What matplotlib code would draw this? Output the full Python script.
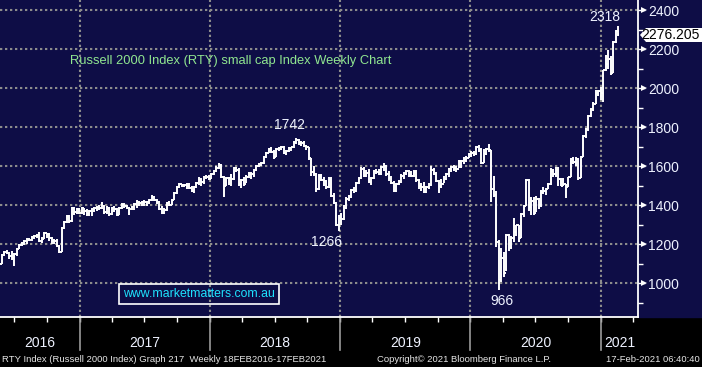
import matplotlib
matplotlib.use("Agg")
import matplotlib.pyplot as plt
import matplotlib.dates as mdates
import matplotlib.transforms as mtransforms
from matplotlib.patches import Polygon, Rectangle
import pandas as pd

# weekly bars, first week ending 20 May 2016, last (partial) week 17 Feb 2021
highs = [
    1125, 1150, 1165, 1170, 1160, 1165, 1155, 1180, 1200, 1210, 1220, 1230, 1232, 1240, 1245, 1250, 1260,
    1235, 1260, 1258, 1255, 1235, 1225, 1225, 1195, 1285, 1320, 1350, 1350, 1390, 1390, 1385, 1385,
    # 2017
    1390, 1385, 1380, 1375, 1385, 1390, 1395, 1400, 1415, 1400, 1395, 1390, 1390, 1395, 1385, 1390, 1410,
    1410, 1400, 1390, 1395, 1410, 1425, 1420, 1420, 1425, 1420, 1430, 1450, 1445, 1430, 1420, 1395, 1385,
    1415, 1420, 1430, 1465, 1495, 1515, 1510, 1510, 1515, 1515, 1495, 1495, 1520, 1545, 1540, 1550, 1555, 1555,
    # 2018
    1565, 1580, 1600, 1615, 1610, 1550, 1545, 1545, 1560, 1595, 1595, 1590, 1535, 1545, 1555, 1570, 1570,
    1585, 1605, 1615, 1620, 1650, 1670, 1690, 1700, 1680, 1690, 1700, 1705, 1705, 1680, 1700, 1700, 1730,
    1742, 1740, 1730, 1730, 1710, 1700, 1640, 1600, 1565, 1560, 1560, 1545, 1530, 1545, 1545, 1460, 1415, 1350,
    # 2019
    1360, 1400, 1440, 1450, 1480, 1490, 1520, 1545, 1595, 1595, 1580, 1585, 1545, 1580, 1585, 1585, 1600,
    1615, 1605, 1575, 1550, 1525, 1515, 1530, 1560, 1570, 1580, 1580, 1575, 1580, 1580, 1535, 1515, 1520,
    1500, 1515, 1600, 1590, 1570, 1530, 1535, 1550, 1565, 1590, 1600, 1605, 1600, 1630, 1630, 1645, 1650, 1665,
    # 2020 - 2021
    1675, 1675, 1705, 1710, 1690, 1685, 1690, 1715, 1680, 1550, 1470, 1220, 1180, 1160, 1250, 1250, 1240,
    1335, 1300, 1300, 1360, 1400, 1535, 1535, 1440, 1440, 1445, 1435, 1475, 1490, 1485, 1515, 1590, 1585,
    1595, 1595, 1540, 1540, 1510, 1545, 1640, 1645, 1645, 1640, 1650, 1760, 1795, 1860, 1895, 1930, 1990,
    1990, 2005, 2090, 2170, 2195, 2165, 2240, 2295, 2318,
]
lows = [
    1090, 1100, 1140, 1150, 1125, 1120, 1085, 1140, 1175, 1190, 1195, 1200, 1215, 1215, 1225, 1230, 1210,
    1205, 1225, 1230, 1215, 1200, 1200, 1185, 1155, 1160, 1275, 1310, 1310, 1315, 1350, 1355, 1355,
    1355, 1350, 1345, 1345, 1345, 1365, 1370, 1375, 1380, 1355, 1355, 1345, 1350, 1365, 1345, 1350, 1380,
    1385, 1380, 1350, 1375, 1375, 1385, 1395, 1395, 1395, 1395, 1405, 1420, 1420, 1405, 1375, 1355, 1355,
    1370, 1395, 1400, 1425, 1455, 1485, 1490, 1490, 1480, 1480, 1465, 1460, 1485, 1505, 1500, 1510, 1535, 1530,
    1535, 1555, 1570, 1585, 1540, 1440, 1495, 1505, 1500, 1530, 1570, 1500, 1485, 1500, 1515, 1540, 1535,
    1545, 1575, 1595, 1600, 1610, 1640, 1665, 1665, 1635, 1645, 1675, 1680, 1660, 1655, 1670, 1675, 1690,
    1715, 1710, 1705, 1700, 1680, 1630, 1550, 1550, 1465, 1475, 1525, 1495, 1480, 1485, 1440, 1405, 1290, 1266,
    1300, 1325, 1380, 1420, 1435, 1460, 1465, 1510, 1535, 1545, 1545, 1515, 1505, 1535, 1560, 1555, 1555,
    1575, 1550, 1525, 1510, 1465, 1465, 1505, 1515, 1535, 1555, 1545, 1545, 1545, 1520, 1480, 1470, 1460,
    1460, 1480, 1500, 1555, 1520, 1460, 1485, 1515, 1530, 1545, 1570, 1575, 1570, 1590, 1590, 1610, 1620, 1640,
    1645, 1650, 1655, 1670, 1610, 1615, 1655, 1670, 1415, 1440, 1185, 966, 1005, 1030, 1060, 1165, 1175,
    1210, 1240, 1210, 1230, 1340, 1395, 1370, 1350, 1350, 1365, 1380, 1390, 1455, 1450, 1480, 1505, 1545,
    1545, 1500, 1495, 1500, 1435, 1490, 1545, 1610, 1600, 1530, 1540, 1645, 1745, 1780, 1850, 1880, 1920,
    1960, 1940, 1930, 2085, 2100, 2065, 2075, 2230, 2265,
]
closes = [
    1100, 1145, 1160, 1155, 1140, 1130, 1150, 1175, 1195, 1205, 1215, 1225, 1220, 1235, 1240, 1245, 1215,
    1225, 1255, 1252, 1230, 1215, 1215, 1190, 1160, 1280, 1315, 1345, 1320, 1385, 1365, 1380, 1357,
    1385, 1370, 1355, 1370, 1380, 1385, 1390, 1385, 1395, 1365, 1385, 1355, 1385, 1380, 1350, 1385, 1400,
    1395, 1385, 1380, 1390, 1405, 1415, 1410, 1415, 1415, 1415, 1425, 1440, 1425, 1415, 1380, 1360, 1375,
    1410, 1400, 1425, 1460, 1490, 1510, 1505, 1505, 1500, 1485, 1470, 1490, 1515, 1530, 1520, 1545, 1545, 1535,
    1560, 1575, 1590, 1605, 1545, 1495, 1540, 1540, 1535, 1590, 1580, 1510, 1530, 1510, 1545, 1560, 1560,
    1580, 1600, 1610, 1615, 1645, 1665, 1685, 1670, 1645, 1685, 1690, 1695, 1665, 1675, 1690, 1695, 1725,
    1735, 1720, 1720, 1705, 1695, 1640, 1570, 1560, 1480, 1550, 1530, 1525, 1490, 1535, 1445, 1410, 1295, 1335,
    1330, 1385, 1430, 1440, 1475, 1470, 1515, 1540, 1585, 1550, 1565, 1520, 1540, 1575, 1570, 1560, 1595,
    1600, 1560, 1540, 1515, 1470, 1510, 1520, 1550, 1565, 1575, 1555, 1550, 1570, 1530, 1500, 1490, 1465,
    1490, 1505, 1580, 1560, 1525, 1500, 1510, 1535, 1560, 1585, 1595, 1590, 1585, 1625, 1625, 1630, 1640, 1660,
    1665, 1660, 1700, 1680, 1615, 1660, 1685, 1680, 1480, 1450, 1210, 1015, 1130, 1050, 1245, 1220, 1230,
    1260, 1295, 1230, 1355, 1395, 1530, 1390, 1420, 1360, 1430, 1400, 1465, 1470, 1480, 1510, 1575, 1560,
    1580, 1535, 1500, 1510, 1490, 1545, 1635, 1620, 1635, 1540, 1645, 1755, 1790, 1855, 1890, 1920, 1975,
    1985, 1975, 2090, 2125, 2150, 2075, 2235, 2290, 2276,
]
dates = list(pd.date_range("2016-05-20", periods=len(closes) - 1, freq="W-FRI")) + [pd.Timestamp("2021-02-17")]

last_price = "2276.205"
y_major = [1000, 1200, 1400, 1600, 1800, 2000, 2200, 2400]
y_minor = [900, 1100, 1300, 1500, 1700, 1900, 2100, 2300]
years = [2016, 2017, 2018, 2019, 2020, 2021]
callouts = [  # label, week index, offset in px (dx, dy)
    ("2318", 248, (-13, 9)),
    ("1742", 119, (-7, 13)),
    ("1266", 136, (-12, -11)),
    ("966", 200, (3, -11)),
]

W, H = 702, 367
NAVY = "#0e0d46"
GRID = "#8c8c8c"
TXT = "#eef2ff"
FONT = "Liberation Sans"


def fx(px):
    return px / W


def fy(py):
    return 1 - py / H


fig = plt.figure(figsize=(W / 100, H / 100), dpi=100, facecolor="black")
fig.patches.append(Rectangle((fx(638), fy(317)), fx(64), 317 / H, transform=fig.transFigure,
                             color=NAVY, zorder=-1))
ax = fig.add_axes([0, fy(317), fx(638), 317 / H])
ax.set_facecolor(NAVY)

x = mdates.date2num(dates)
x_left = mdates.date2num(pd.Timestamp("2016-05-22"))
x_right = mdates.date2num(pd.Timestamp("2021-04-15"))
ax.set_xlim(x_left, x_right)
ax.set_ylim(825.7, 2451.3)

# grid
dots = (0, (1.1, 1.3))
for v in y_major:
    ax.axhline(v, color=GRID, lw=1.5, ls=dots, zorder=1)
year_starts = [mdates.date2num(pd.Timestamp(f"{y}-01-01")) for y in years[1:]]
for xs in year_starts:
    ax.axvline(xs, color=GRID, lw=1.5, ls=dots, zorder=1)

# weekly bars
prev = [closes[0]] + closes[:-1]
ax.vlines(x, lows, highs, color="white", lw=1.4, zorder=3)
ax.hlines(prev, x - 3.5, x, color="white", lw=1.4, zorder=3)
ax.hlines(closes, x, x + 3.5, color="white", lw=1.4, zorder=3)

# spines
for s in ["top", "left"]:
    ax.spines[s].set_visible(False)
ax.spines["right"].set_color("white")
ax.spines["bottom"].set_color("white")
ax.spines["right"].set_linewidth(1.3)
ax.spines["bottom"].set_linewidth(1.3)

# right axis
ax.yaxis.tick_right()
ax.set_yticks(y_major)
ax.set_yticks(y_minor, minor=True)
ax.tick_params(axis="y", which="major", length=5, width=1, color="white", pad=2.5,
               labelsize=10, labelcolor=TXT)
ax.tick_params(axis="y", which="minor", length=3.5, width=1, color="white")
for lab in ax.get_yticklabels():
    lab.set_fontfamily(FONT)
ytrans = mtransforms.blended_transform_factory(ax.transAxes, ax.transData)
ax.plot([1 + 6 / 638] * len(y_major), y_major, ls="none", marker=">", ms=4.5, color="white",
        mew=0, transform=ytrans, clip_on=False, zorder=4)

# bottom axis: quarter ticks, year dividers, year labels
quarters = [mdates.date2num(d) for d in pd.date_range("2016-07-01", "2021-04-01", freq="QS")]
ax.set_xticks(quarters)
ax.tick_params(axis="x", which="major", length=3.5, width=1, color="white", labelbottom=False)
xtrans = mtransforms.blended_transform_factory(ax.transData, ax.transAxes)
for xs in year_starts:
    ax.plot([xs, xs], [0, -33 / 317], color="#9a9a9a", lw=1.2, transform=xtrans, clip_on=False)
bounds = [x_left] + year_starts + [x_right]
for i, yr in enumerate(years):
    ax.text((bounds[i] + bounds[i + 1]) / 2, -26 / 317, str(yr), transform=xtrans, ha="center",
            va="center", color=TXT, fontsize=10, family=FONT)

# callouts
for label, i, (dx, dy) in callouts:
    v = highs[i] if dy > 0 else lows[i]
    ax.annotate(label, xy=(x[i], v), xytext=(dx * 0.72, dy * 0.72), textcoords="offset points",
                ha="center", va="center", color=TXT, fontsize=10, family=FONT)

# last price tag
tag = Polygon([(fx(640), fy(35)), (fx(646), fy(28)), (fx(702), fy(28)), (fx(702), fy(42)),
               (fx(646), fy(42))], closed=True, transform=fig.transFigure, fc="white", ec="none")
fig.patches.append(tag)
fig.text(fx(700), fy(35), last_price, ha="right", va="center", color="black", fontsize=10, family=FONT)

# titles and footer
fig.text(fx(70), fy(61), "Russell 2000 Index (RTY) small cap Index Weekly Chart", ha="left", va="center",
         color="#90e690", fontsize=9.3, family=FONT)
fig.text(fx(123), fy(294), "www.marketmatters.com.au", ha="left", va="center", color="#1ee3ff",
         fontsize=8.8, family=FONT,
         bbox=dict(boxstyle="square,pad=0.3", fc="none", ec="white", lw=1.2))
fig.text(fx(2), fy(359), "RTY Index (Russell 2000 Index) Graph 217  Weekly 18FEB2016-17FEB2021",
         ha="left", va="center", color="#e6e6e6", fontsize=6.8, family=FONT)
fig.text(fx(377), fy(359), "Copyright\u00a9 2021 Bloomberg Finance L.P.", ha="left", va="center",
         color="#e6e6e6", fontsize=6.8, family=FONT)
fig.text(fx(700), fy(359), "17-Feb-2021 06:40:40", ha="right", va="center", color="#e6e6e6",
         fontsize=6.8, family=FONT)

fig.savefig("out.png", dpi=100, facecolor="black")
